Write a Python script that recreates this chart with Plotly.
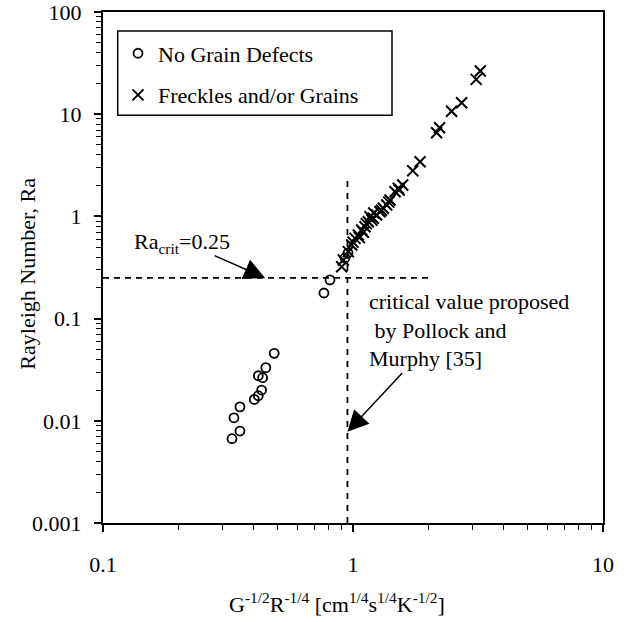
import math
import plotly.graph_objects as go

# Samples with no grain defects: G^-1/2 R^-1/4 versus Rayleigh number
sound_x = [0.484, 0.448, 0.418, 0.435, 0.431, 0.418, 0.403, 0.353, 0.334, 0.353, 0.328,
           0.765, 0.809, 0.929, 0.955]
sound_ra = [0.0457, 0.0331, 0.0276, 0.0264, 0.0200, 0.0176, 0.0162, 0.0137, 0.0107, 0.00794, 0.00668,
            0.178, 0.239, 0.392, 0.438]

# Samples showing freckles and/or stray grains
freckle_x = [0.901, 0.915, 0.958, 0.988, 1.000, 1.019, 1.050, 1.060, 1.083, 1.100, 1.117, 1.130,
             1.152, 1.170, 1.190, 1.206, 1.210, 1.244, 1.282, 1.300, 1.322, 1.364, 1.390, 1.406,
             1.473, 1.518, 1.530, 1.580, 1.734, 1.855, 2.160, 2.220, 2.480, 2.720, 3.110, 3.230]
freckle_ra = [0.322, 0.374, 0.452, 0.525, 0.560, 0.610, 0.658, 0.620, 0.736, 0.700, 0.793, 0.850,
              0.887, 0.993, 0.920, 0.958, 1.080, 1.032, 1.112, 1.150, 1.200, 1.293, 1.380, 1.446,
              1.745, 1.884, 1.810, 2.030, 2.800, 3.430, 6.590, 7.380, 10.70, 12.96, 21.90, 26.50]

# Critical values
ra_crit = 0.25
pollock_murphy = 0.95
ra_crit_line_x = [0.1, 2.0]
pollock_line_ra = [0.001, 2.4]

x_tickvals = [0.1, 1, 10]
x_ticktext = ["0.1", "1", "10"]
y_tickvals = [0.001, 0.01, 0.1, 1, 10, 100]
y_ticktext = ["0.001", "0.01", "0.1", "1", "10", "100"]

x_title = "G<sup>-1/2</sup>R<sup>-1/4</sup> [cm<sup>1/4</sup>s<sup>1/4</sup>K<sup>-1/2</sup>]"
y_title = "Rayleigh Number, Ra"

FONT = "Liberation Serif, Times New Roman, serif"
INK = "black"

fig = go.Figure()

fig.add_trace(go.Scatter(
    x=ra_crit_line_x, y=[ra_crit, ra_crit], mode="lines", showlegend=False,
    line=dict(color=INK, width=1.8, dash="6px,5px"), hoverinfo="skip"))
fig.add_trace(go.Scatter(
    x=[pollock_murphy, pollock_murphy], y=pollock_line_ra, mode="lines", showlegend=False,
    line=dict(color=INK, width=1.8, dash="6px,6px"), hoverinfo="skip"))

fig.add_trace(go.Scatter(
    x=sound_x, y=sound_ra, mode="markers", name="No Grain Defects", legendgroup="a",
    marker=dict(symbol="circle-open", size=9, color=INK, line=dict(width=1.8, color=INK))))
fig.add_trace(go.Scatter(
    x=freckle_x, y=freckle_ra, mode="markers", name="Freckles and/or Grains", legendgroup="b",
    marker=dict(symbol="x-thin-open", size=11, color=INK, line=dict(width=2, color=INK))))

axis_common = dict(
    type="log", showgrid=False, zeroline=False, showline=True, linecolor=INK, linewidth=2,
    mirror=True, ticks="outside", ticklen=7, tickwidth=1.5, tickcolor=INK, automargin=False,
    ticklabeloverflow="allow",
    tickfont=dict(family=FONT, size=22, color=INK),
    minor=dict(ticks="outside", ticklen=5, tickwidth=1.2, tickcolor=INK, dtick="D1", showgrid=False),
)

fig.update_xaxes(**axis_common, range=[-1, 1], tickvals=x_tickvals, ticktext=x_ticktext,
                 ticklabelstandoff=14)
fig.update_yaxes(**axis_common, range=[-3, 2], tickvals=y_tickvals, ticktext=y_ticktext,
                 ticklabelstandoff=8)

# Axis titles
fig.add_annotation(
    xref="paper", yref="paper", x=0.468, y=-0.157, xanchor="center", yanchor="middle",
    text=x_title, showarrow=False, font=dict(family=FONT, size=22, color=INK))
fig.add_annotation(
    xref="paper", yref="paper", x=-0.151, y=0.487, xanchor="center", yanchor="middle",
    text=y_title, textangle=-90, showarrow=False, font=dict(family=FONT, size=22, color=INK))

fig.add_annotation(
    xref="paper", yref="paper", x=0.058, y=0.548, xanchor="left", yanchor="middle",
    text="Ra<sub>crit</sub>=0.25", showarrow=False, font=dict(family=FONT, size=22, color=INK))
fig.add_annotation(
    x=math.log10(0.445), y=math.log10(ra_crit), ax=-52, ay=-23, text="",
    showarrow=True, arrowhead=2, arrowsize=2.8, arrowwidth=1.5, arrowcolor=INK, standoff=0)

fig.add_annotation(
    xref="paper", yref="paper", x=0.528, y=0.378, xanchor="left", yanchor="middle", align="left",
    text="critical value proposed<br>\u00a0by Pollock and<br>Murphy [35]", showarrow=False,
    font=dict(family=FONT, size=22, color=INK))
fig.add_annotation(
    x=math.log10(pollock_murphy), y=math.log10(0.0078), ax=56, ay=-60, text="",
    showarrow=True, arrowhead=2, arrowsize=2.8, arrowwidth=1.5, arrowcolor=INK, standoff=0)

# Frame around the legend
fig.add_shape(
    type="rect", xref="paper", yref="paper", x0=0.0294, x1=0.578, y0=0.798, y1=0.963,
    line=dict(color=INK, width=1.5), fillcolor="white", layer="below")

fig.update_layout(
    width=627, height=622,
    margin=dict(l=103, r=24, t=12, b=99),
    paper_bgcolor="white", plot_bgcolor="white",
    font=dict(family=FONT, size=22, color=INK),
    legend=dict(
        x=0.03, y=0.96, xanchor="left", yanchor="top",
        bgcolor="rgba(0,0,0,0)", borderwidth=0,
        font=dict(family=FONT, size=22, color=INK),
        traceorder="grouped", tracegroupgap=10),
)

fig.write_html("out.html")
